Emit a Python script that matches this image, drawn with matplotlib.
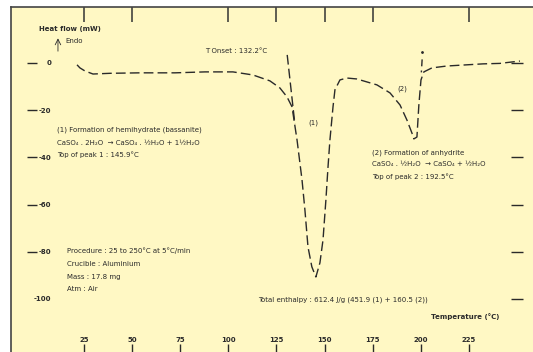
import matplotlib.pyplot as plt

# DSC curve
temp = [21.4, 22.9, 25.5, 29.7, 38.5, 54.1, 72.3, 87.9, 102.4, 112.8, 121.6, 126.8,
        130.5, 133.1, 135.7, 138.3, 139.8, 141.4, 143.4, 145.5, 147.6, 149.2, 150.7,
        151.8, 152.8, 154.4, 155.4, 158.0, 161.6, 166.8, 177.2, 184.0, 189.2, 192.8,
        195.4, 196.4, 198.0, 199.0, 200.1, 201.6, 205.8, 213.6, 224.0, 232.3, 241.1, 251.5]
heat = [-0.8, -2.1, -3.4, -4.7, -4.4, -4.2, -4.2, -3.8, -3.8, -5.1, -7.6, -10.6,
        -14.4, -18.6, -32.6, -49.6, -62.3, -78.0, -86.4, -90.7, -84.7, -75.0, -58.1,
        -44.1, -32.6, -18.6, -11.4, -7.2, -6.4, -6.8, -9.3, -12.7, -17.8, -24.2,
        -29.7, -32.2, -31.4, -17.8, -7.2, -3.8, -2.1, -1.3, -0.8, -0.4, -0.2, 0.8]

# tangent lines used for onset / peak 2
onset_t = [130.6, 134.6]
onset_h = [3.4, -26.0]
tan2_t = [200.7, 200.3]
tan2_h = [1.5, -4.0]

xticks = [25, 50, 75, 100, 125, 150, 175, 200, 225]
top_ticks = [25, 50, 100, 125, 150, 175, 225]
yticks = [0, -20, -40, -60, -80, -100]
ylabels = ['0', '-20', '-40', '-60', '-80', '-100']

bg = '#fff8c4'
ink = '#2a2a2a'
fs = 5

fig = plt.figure(figsize=(5.33, 3.52), dpi=100)
ax = fig.add_axes([11 / 533, 0, 522 / 533, 345 / 352])
ax.set_facecolor(bg)
ax.set_xlim(-12.9, 258.3)
ax.set_ylim(-122.5, 23.7)

ax.plot(temp, heat, color=ink, lw=1.0, ls=(0, (7, 3)))
ax.plot(onset_t, onset_h, color=ink, lw=1.0, ls=(0, (7, 3)))
ax.plot(tan2_t, tan2_h, color=ink, lw=1.0, ls=(0, (5, 3)))
ax.plot([200.7], [4.7], marker='.', ms=2, color=ink)

# frame: only left and top
for s in ['right', 'bottom']:
    ax.spines[s].set_visible(False)
for s in ['left', 'top']:
    ax.spines[s].set_color('#444444')
    ax.spines[s].set_linewidth(1.2)

# bottom temperature ticks, labels sitting above the ticks
ax.set_xticks(xticks)
ax.set_xticklabels([str(t) for t in xticks], fontsize=fs, fontweight='bold', color=ink)
ax.tick_params(axis='x', direction='in', length=6, width=1.0, color=ink, pad=-10.5)
ax.set_yticks([])

top = ax.secondary_xaxis('top')
top.set_xticks(top_ticks)
top.tick_params(direction='in', length=10.5, width=1.1, color='#333333',
                labeltop=False, labelbottom=False)
top.spines['top'].set_visible(False)

left = ax.secondary_yaxis((37 - 11) / 522)
left.set_alignment('left')
left.set_yticks(yticks)
left.set_yticklabels(ylabels, fontsize=fs, fontweight='bold', color=ink)
left.tick_params(direction='out', length=7.2, width=1.0, color=ink, pad=-17.5)
left.spines['left'].set_visible(False)
left.yaxis.get_major_ticks()[-1].tick1line.set_visible(False)

right = ax.secondary_yaxis((523 - 11) / 522)
right.set_alignment('right')
right.set_yticks(yticks)
right.tick_params(direction='in', length=8.6, width=1.0, color=ink,
                  labelright=False, labelleft=False)
right.spines['right'].set_visible(False)

txt = dict(fontsize=fs, color=ink, va='center', ha='left')
ax.text(1.6, 14.4, 'Heat flow (mW)', fontweight='bold', **txt)
ax.annotate('', xy=(11.5, 11.6), xytext=(11.5, 3.8),
            arrowprops=dict(arrowstyle='->, head_width=0.2, head_length=0.4',
                            lw=0.6, color=ink))
ax.text(15.6, 9.3, 'Endo', **txt)
ax.text(87.9, 5.1, 'T Onset : 132.2°C', **txt)
ax.text(141.4, -25.4, '(1)', **txt)
ax.text(187.6, -11.0, '(2)', **txt)

ax.text(11.0, -28.4, '(1) Formation of hemihydrate (bassanite)', **txt)
ax.text(11.0, -33.9, 'CaSO₄ . 2H₂O  → CaSO₄ . ½H₂O + 1½H₂O', **txt)
ax.text(11.0, -39.0, 'Top of peak 1 : 145.9°C', **txt)

ax.text(174.6, -38.1, '(2) Formation of anhydrite', **txt)
ax.text(174.6, -42.8, 'CaSO₄ . ½H₂O  → CaSO₄ + ½H₂O', **txt)
ax.text(174.6, -48.3, 'Top of peak 2 : 192.5°C', **txt)

ax.text(16.2, -79.7, 'Procedure : 25 to 250°C at 5°C/min', **txt)
ax.text(16.2, -85.2, 'Crucible : Aluminium', **txt)
ax.text(16.2, -90.7, 'Mass : 17.8 mg', **txt)
ax.text(16.2, -95.8, 'Atm : Air', **txt)

ax.text(115.4, -100.4, 'Total enthalpy : 612.4 J/g (451.9 (1) + 160.5 (2))', **txt)
ax.text(205.3, -107.6, 'Temperature (°C)', fontweight='bold', **txt)

fig.savefig('out.png', dpi=100, facecolor='white')
